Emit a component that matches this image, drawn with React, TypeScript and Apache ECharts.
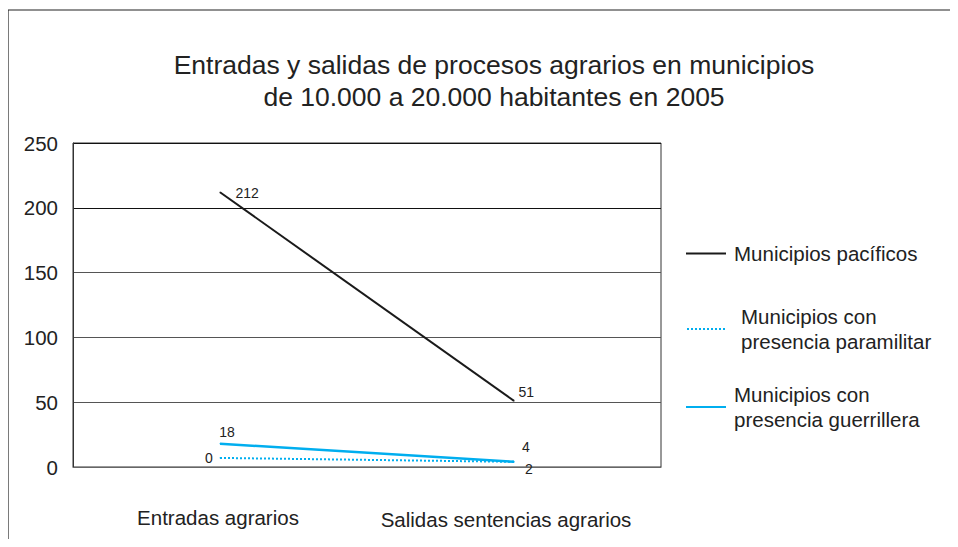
import React, { useEffect, useRef } from "react";
import * as echarts from "echarts";

const categories = ["Entradas agrarios", "Salidas sentencias agrarios"];
const seriesNames = [
  "Municipios pacíficos",
  "Municipios con presencia paramilitar",
  "Municipios con presencia guerrillera",
];
const pacificos = [212, 51];
const paramilitar = [7, 4];
const paramilitarLabels = ["0", "2"];
const guerrillera = [18, 4];
const yTicks = [0, 50, 100, 150, 200, 250];

const FONT = "'Liberation Sans', Arial, sans-serif";
const CYAN = "#00aeef";

export default function App() {
  const ref = useRef<HTMLDivElement>(null);
  useEffect(() => {
    if (!ref.current) return;
    const chart = echarts.init(ref.current, null, { renderer: "svg" });
    const legendText = {
      fontSize: 20.5,
      color: "#222",
      fontFamily: FONT,
      lineHeight: 25,
    };
    chart.setOption({
      animation: false,
      textStyle: { fontFamily: FONT },
      title: {
        text:
          "Entradas y salidas de procesos agrarios en municipios\nde 10.000 a 20.000 habitantes en 2005",
        left: 489,
        top: 44,
        textAlign: "center",
        textStyle: {
          fontSize: 26.5,
          fontWeight: "normal",
          color: "#222",
          lineHeight: 32,
          fontFamily: FONT,
        },
      },
      graphic: [
        {
          type: "rect",
          shape: { x: 8, y: 10, width: 1000, height: 600 },
          style: { fill: "none", stroke: "#222", lineWidth: 1.2 },
          silent: true,
        },
      ],
      legend: [
        {
          data: [seriesNames[0]],
          orient: "vertical",
          left: 680,
          top: 236,
          itemWidth: 40,
          itemHeight: 14,
          itemStyle: { opacity: 0 },
          textStyle: { ...legendText, padding: [0, 0, 0, 3] },
        },
        {
          data: [seriesNames[1]],
          orient: "vertical",
          left: 681,
          top: 299,
          itemWidth: 40,
          itemHeight: 14,
          itemStyle: { opacity: 0 },
          formatter: () => "Municipios con\npresencia paramilitar",
          textStyle: { ...legendText, padding: [0, 0, 0, 9] },
        },
        {
          data: [seriesNames[2]],
          orient: "vertical",
          left: 680,
          top: 377,
          itemWidth: 40,
          itemHeight: 14,
          itemStyle: { opacity: 0 },
          formatter: () => "Municipios con\npresencia guerrillera",
          textStyle: { ...legendText, padding: [0, 0, 0, 3] },
        },
      ],
      grid: {
        left: 73,
        right: 297,
        top: 143,
        bottom: 80,
        show: true,
        borderColor: "#333",
        borderWidth: 1,
      },
      xAxis: {
        type: "category",
        data: categories,
        boundaryGap: true,
        axisLine: { show: true, lineStyle: { color: "#666", width: 1.2 } },
        axisTick: { show: false },
        axisLabel: {
          margin: 38,
          formatter: (v: string) =>
            v === categories[1] ? `{b|${v}}` : `{a|${v}}`,
          rich: {
            a: {
              fontSize: 20.5,
              color: "#222",
              fontFamily: FONT,
              padding: [2, 4, 0, 0],
            },
            b: {
              fontSize: 20.5,
              color: "#222",
              fontFamily: FONT,
              padding: [4, 16, 0, 0],
            },
          },
        },
      },
      yAxis: {
        type: "value",
        min: yTicks[0],
        max: yTicks[yTicks.length - 1],
        interval: 50,
        axisLine: { show: true, lineStyle: { color: "#333", width: 1 } },
        axisTick: { show: false },
        axisLabel: {
          fontSize: 20.5,
          color: "#222",
          margin: 15,
          fontFamily: FONT,
        },
        splitLine: {
          show: true,
          lineStyle: {
            color: ["#666", "#555", "#555", "#555", "#111", "#111"],
            width: 1,
          },
        },
      },
      series: [
        {
          name: seriesNames[0],
          type: "line",
          data: pacificos,
          symbol: "circle",
          symbolSize: 1,
          itemStyle: { color: "#1a1a1a" },
          lineStyle: { color: "#1a1a1a", width: 2 },
          label: {
            show: true,
            fontSize: 14,
            color: "#222",
            fontFamily: FONT,
            formatter: (p: any) => String(p.value),
            position: "right",
          },
          labelLayout: (p: any) =>
            p.dataIndex === 0 ? { dx: 10, dy: 1 } : { dx: -1, dy: -9 },
        },
        {
          name: seriesNames[1],
          type: "line",
          data: paramilitar,
          symbol: "circle",
          symbolSize: 1,
          itemStyle: { color: CYAN },
          lineStyle: { color: CYAN, width: 2, type: "dotted" },
          label: {
            show: true,
            fontSize: 14,
            color: "#222",
            fontFamily: FONT,
            formatter: (p: any) => paramilitarLabels[p.dataIndex],
          },
          labelLayout: (p: any) =>
            p.dataIndex === 0 ? { dx: -11, dy: 13 } : { dx: 15, dy: 20 },
        },
        {
          name: seriesNames[2],
          type: "line",
          data: guerrillera,
          symbol: "circle",
          symbolSize: 1,
          itemStyle: { color: CYAN },
          lineStyle: { color: CYAN, width: 2.5 },
          label: {
            show: true,
            fontSize: 14,
            color: "#222",
            fontFamily: FONT,
            formatter: (p: any) => String(p.value),
          },
          labelLayout: (p: any) =>
            p.dataIndex === 0 ? { dx: 7, dy: 1 } : { dx: 12, dy: -2 },
        },
      ],
    });
    return () => chart.dispose();
  }, []);
  return <div ref={ref} style={{ width: 958, height: 547, margin: -8 }} />;
}
